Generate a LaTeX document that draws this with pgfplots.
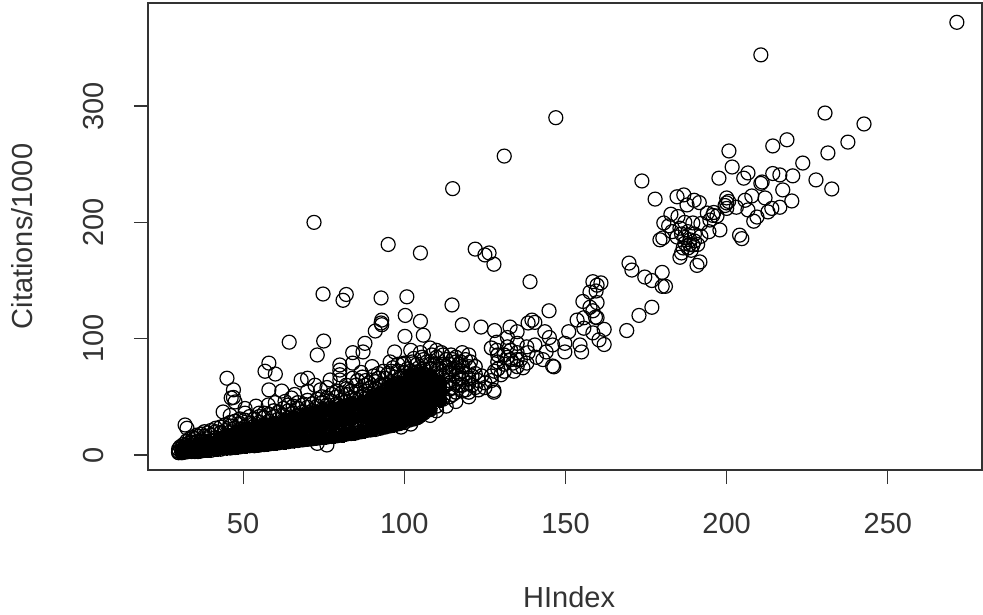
\documentclass[border=0pt]{standalone}
\usepackage{fontspec}
\setmainfont{Liberation Sans}
\usepackage{pgfplots}
\pgfplotsset{compat=1.18}
\definecolor{ink}{gray}{0.2}
\begin{document}
\begin{tikzpicture}[x=1pt,y=1pt]
\path[use as bounding box] (-148,-144) rectangle (835,470);
\begin{axis}[
  at={(0pt,0pt)},anchor=south west,
  scale only axis,width=834pt,height=467pt,
  xmin=20.5,xmax=279.2,ymin=-12.9,ymax=388.6,
  xtick={50,100,150,200,250},ytick={0,100,200,300},
  axis line style={draw=ink,line width=1.2pt},
  tick style={draw=ink,line width=1.2pt},
  tick align=outside,major tick length=14pt,
  xtick pos=bottom,ytick pos=left,
  /pgf/number format/assume math mode=true,
  tick label style={font=\fontsize{29}{29}\selectfont,text=ink},
  x tick label style={anchor=center,yshift=-40pt},
  y tick label style={rotate=90,anchor=center,yshift=40pt},
  xlabel={HIndex},ylabel={Citations/1000},
  every axis x label/.style={at={(axis description cs:0.505,0)},anchor=center,yshift=-127pt,font=\fontsize{29}{29}\selectfont,text=ink},
  every axis y label/.style={at={(axis description cs:0,0.5)},anchor=center,rotate=90,yshift=126pt,font=\fontsize{29}{29}\selectfont,text=ink},
  clip=false,
]
% solid core of the mass, estimated
\addplot[only marks,mark=*,mark size=7pt,mark options={line width=0pt,draw=black,fill=black}] coordinates {
(31,2.5)(31,4)(33,3)(33,8)(36,3)(36,9)(39,4)(39,11)(42,5)(42,12)(45,6)(45,13)(45,17)(48,6.5)(48,14)(48,20)
(51,7.5)(51,15)(51,22)(54,8)(54,16)(54,24)(57,9)(57,17)(57,26)(60,10)(60,18)(60,27)(63,11)(63,20)(63,30)
(66,12)(66,22)(66,32)(69,13)(69,23)(69,34)(72,14)(72,25)(72,36)(75,15)(75,27)(75,38)(78,16)(78,28)(78,40)
(81,17)(81,30)(81,42)(84,18.5)(84,32)(84,44)(87,20)(87,34)(87,46)(90,22)(90,36)(90,50)(93,24)(93,38)(93,52)
(96,25)(96,40)(96,54)(96,60)(99,28)(99,42)(99,56)(99,62)(102,31)(102,44)(102,58)(102,68)(105,34)(105,46)(105,60)(105,70)(108,40)(108,50)(108,62)(108,68)(111,47)(111,58)(111,62)
(87,40)(90,43)(93,45)(96,47)(99,49)(102,51)(105,53)(108,56)(90,29)(93,31)(96,32)(99,35)(102,37)(105,40)
};
% the dense mass, estimated column by column
\addplot[only marks,mark=o,mark size=7pt,mark options={line width=1.3pt,draw=black,fill=none}] coordinates {
(30,2)(30,3)(30,5)(30.5,7)(31,2)(31,4)(31,6)(31.5,9)(32,2.5)(32,5)(32,8)(32.5,12)(33,3)(33,6)(33,10)(33.5,14)
(34,3)(34,7)(34,11)(34.5,15)(35,3)(35,6)(35,10)(35,14)(35.5,17)(36,3)(36,7)(36,12)(36,16)(37,3.5)(37,8)(37,13)(37,18)
(38,4)(38,8)(38,12)(38,16)(38,20)(39,4)(39,9)(39,14)(39,19)(40,4)(40,8)(40,12)(40,17)(40,21)(41.5,5)(41.5,10)(41.5,15)(41.5,20)(41.5,23)
(43,5)(43,9)(43,14)(43,19)(43,24)(44.5,6)(44.5,11)(44.5,16)(44.5,21)(44.5,26)(46,6)(46,10)(46,15)(46,20)(46,25)(46,28)
(47.5,6.5)(47.5,11)(47.5,17)(47.5,23)(47.5,29)(49,7)(49,12)(49,17)(49,22)(49,27)(49,31)(50.5,7.5)(50.5,13)(50.5,18)(50.5,24)(50.5,30)
(52,8)(52,12)(52,17)(52,22)(52,27)(52,33)(53.5,8)(53.5,14)(53.5,19)(53.5,25)(53.5,31)(55,8.5)(55,13)(55,18)(55,23)(55,28)(55,33)
(56.5,9)(56.5,15)(56.5,20)(56.5,26)(56.5,32)(56.5,36)(58,9.5)(58,14)(58,19)(58,24)(58,29)(58,35)(59.5,10)(59.5,16)(59.5,21)(59.5,27)(59.5,33)(59.5,38)
(61,10.5)(61,15)(61,20)(61,25)(61,31)(61,37)(62.5,11)(62.5,17)(62.5,22)(62.5,28)(62.5,34)(62.5,40)(64,11.5)(64,16)(64,21)(64,26)(64,32)(64,38)(64,43)
(65.5,12)(65.5,18)(65.5,24)(65.5,30)(65.5,36)(65.5,42)(67,12.5)(67,17)(67,22)(67,28)(67,34)(67,40)(67,45)
(68.5,13)(68.5,19)(68.5,25)(68.5,31)(68.5,37)(68.5,43)(70,13.5)(70,18)(70,23)(70,29)(70,35)(70,41)(70,47)
(71.5,14)(71.5,20)(71.5,26)(71.5,32)(71.5,38)(71.5,44)(73,14.5)(73,19)(73,24)(73,30)(73,36)(73,42)(73,48)
(74.5,15)(74.5,21)(74.5,27)(74.5,33)(74.5,39)(74.5,45)(74.5,50)(76,15.5)(76,20)(76,25)(76,31)(76,37)(76,43)(76,49)
(77.5,16)(77.5,22)(77.5,28)(77.5,34)(77.5,40)(77.5,46)(77.5,52)(79,16.5)(79,21)(79,26)(79,32)(79,38)(79,44)(79,50)(79,55)
(80.5,17)(80.5,23)(80.5,29)(80.5,35)(80.5,41)(80.5,47)(80.5,53)(82,18)(82,23)(82,28)(82,34)(82,40)(82,46)(82,52)(82,57)
(83.5,18.5)(83.5,25)(83.5,31)(83.5,37)(83.5,43)(83.5,49)(83.5,55)(85,19)(85,24)(85,30)(85,36)(85,42)(85,48)(85,54)(85,60)
(86.5,20)(86.5,26)(86.5,32)(86.5,38)(86.5,44)(86.5,50)(86.5,56)(88,21)(88,26)(88,31)(88,37)(88,43)(88,49)(88,55)(88,60)
(89.5,21.5)(89.5,28)(89.5,34)(89.5,40)(89.5,46)(89.5,52)(89.5,58)(91,22)(91,27)(91,33)(91,39)(91,45)(91,51)(91,57)(91,63)
(92.5,23)(92.5,29)(92.5,35)(92.5,41)(92.5,47)(92.5,53)(92.5,60)(94,24)(94,30)(94,36)(94,42)(94,48)(94,54)(94,60)(94,66)
(95.5,25)(95.5,31)(95.5,37)(95.5,43)(95.5,49)(95.5,55)(95.5,62)(97,26)(97,31)(97,37)(97,43)(97,49)(97,55)(97,61)(97,67)
(98.5,27)(98.5,33)(98.5,39)(98.5,45)(98.5,52)(98.5,59)(98.5,66)(100,28)(100,33)(100,39)(100,45)(100,51)(100,57)(100,64)(100,71)
(101.5,30)(101.5,36)(101.5,42)(101.5,49)(101.5,56)(101.5,63)(103,31)(103,37)(103,43)(103,49)(103,56)(103,63)(103,70)
(104.5,33)(104.5,40)(104.5,47)(104.5,54)(104.5,61)(104.5,68)(104.5,75)(106,36)(106,42)(106,49)(106,56)(106,63)(106,70)
(108,39)(108,46)(108,53)(108,60)(108,67)(108,74)(110,42)(110,49)(110,56)(110,63)(110,70)(110,78)
(112,50)(112,58)(112,66)(112,72)(114,50)(114,57)(114,64)(114,71)(116,54)(116,62)(116,68)(116,75)(118,60)(118,66)(118,72)(120,54)(120,66)(120,76)
% upper fringe, x 85 to 140
(85.5,64)(87,67)(89,62)(90.5,68)(92,66)(93.5,72)(95,70)(96.5,75)(98,72)(99.5,78)(101,74)(102.5,80)(104,78)(105.5,84)(107,80)(108.5,86)(110,84)(111.5,88)(113,82)(114.5,86)(116,84)(117.5,80)(119,82)(120.5,80)(122,76)
(111,74)(113,70)(115,74)(117,66)(119,70)(121,68)(123,64)(111,54)(113,60)(115,58)(117,60)(119,56)(121,60)(123,56)(125,58)
(100,68)(102,72)(104,71)(106,74)(108,78)(110,74)(112,78)(114,78)(116,80)(118,76)
(127,68)(129,74)(129,80)(131,72)(131,86)(133,82)(133,90)(135,76)(135,82)(135,96)(129,86)(127,92)
};
% sparse, individually read points
\addplot[only marks,mark=o,mark size=7pt,mark options={line width=1.2pt,draw=black,fill=none}] coordinates {
(271.4,372)(210.6,344)(230.5,294)(147,290)(242.6,284.6)(237.6,269)(231.4,259.7)(223.6,251)(227.7,236.5)(232.6,228.7)
(218.7,271)(214.3,265.7)(200.7,261.4)(201.7,247.6)(197.6,238)(173.7,235.6)(177.8,220)(206.6,242.5)(205.3,238)(211,234.7)(210.6,233.5)
(214.3,242)(216.5,240.8)(220.5,240)(217.4,227.9)(211.9,221)(207.8,222.7)(205.7,219)(220.2,218.4)(216.5,213)(212.8,209)(214,212)
(209.4,204.6)(208.4,201)(206.6,210.7)(203,213)(200,221)(200,216.7)(200,212)(200.6,218)(199.5,214.5)(195.7,206)(194,208)(194.8,202)(197,205.5)(196,208.5)
(197.9,193.5)(194.5,192)(204,189)(204.7,186)(184.6,222)(186.7,223.6)(189.9,219)(187.7,215)(191.5,217)(182.7,207)(184.9,205)(180.5,199.5)(185.5,195)(189.5,199.5)
(180.2,186.6)(179.3,185)(184.6,187.4)(188.6,185)(187,182)(189.5,180.6)(188,178)(186,173.7)(185.5,170)(191.7,166)(190.8,163)(190,190)(192,188)(188,192)(186,190)(190,184)(187,187)(189,176)(191,181)(188.5,181)(186.5,178)
(182,197)(187,200)(192,199)(183,192)
(169.7,165)(170.6,159)(174.6,153)(176.8,150)(180,157)(180,145)(181,145)(176.8,127)(172.8,120)(169,107)
(158.5,149)(161,148)(159.8,146)(157.6,140)(155.4,132)(159.8,131)(157.6,127)(159.8,118)(159.3,118.5)(155.7,118)(153.6,116)(155.7,109)(162,108)(158.5,105)(160.4,99)(162,95)(151,106)(155,88.6)(154.5,94.6)(149.8,96)(149.8,88.6)(159.5,141)(158.5,124)
(144.9,124)(139,149)(146,76.5)(146.4,75.8)(143.6,106)(145,101)(146,94.6)(144,88.6)(143,82)(139.6,116)(138.4,113.5)(140.5,114)(138,93)(140.5,94.6)(138.4,88)(132.8,110)(135,106)(128,107)(123.8,110)(118,112)(114.8,129)
(100.8,136)(105,173.7)(122,177)(125,172)(126.3,173.7)(127.8,164)(105,115)(100.3,120)(100.2,102)(105.9,103)
(128.7,97)(132,101)(128.7,90)(132,93)(132,84)(127.8,54)(127.8,55.5)(133.7,79)(136.8,75)(131,78)(135,88)(128,72)(130,69)(134,72)(136,82)(138,79)(141,84)(124,68)(120,62)(122,70)(117,70)(114,62)(118,55)(112,48)(115,52)
(64.3,97)(75,98)(73,86)(84,88)(87.8,96)(87.2,88.6)(91,106.6)(92.8,113.5)(93,116)(45,66)(58,79)(56.8,72)(60,69.6)(58,56)(62,55)(47,56)(46.3,49)(47,49.5)(47.5,45.6)(43.8,37)(46,34)(50.6,40)(50.6,36)(32,25.8)(32.6,23)(55,36)(57.8,43)(65,49)
(68,64.5)(70,66)(72.3,60)(74,56)(77,64.5)(80,77.4)(80,73)(80,69)(80,64.5)(84,79)(86.6,71)(97,88.6)(95.6,80)(100,79)(102,90)(73,10)(76,8.6)(99,24)(102,26.6)
(72,200)(74.8,138.4)(82,138)(81,133)(92.8,135)(95,181)(115,229)(131,257)(93,112)
(110,90)(108,92)(105,88)(112,86)(115,82)(118,88)(120,86)(113,76)(117,78)(106,82)(109,77)(103,83)(98,78)(96,72)(92,70)(90,76)(88,64)(84,66)(82,60)(76,58)(70,55)(66,52)(63,46)(60,45)(54,42)
(122,58)(125,62)(127,64)(120,50)(116,46)(113,42)(110,38)(107,40)(104,32)(108,34)
};
\end{axis}
\end{tikzpicture}
\end{document}
